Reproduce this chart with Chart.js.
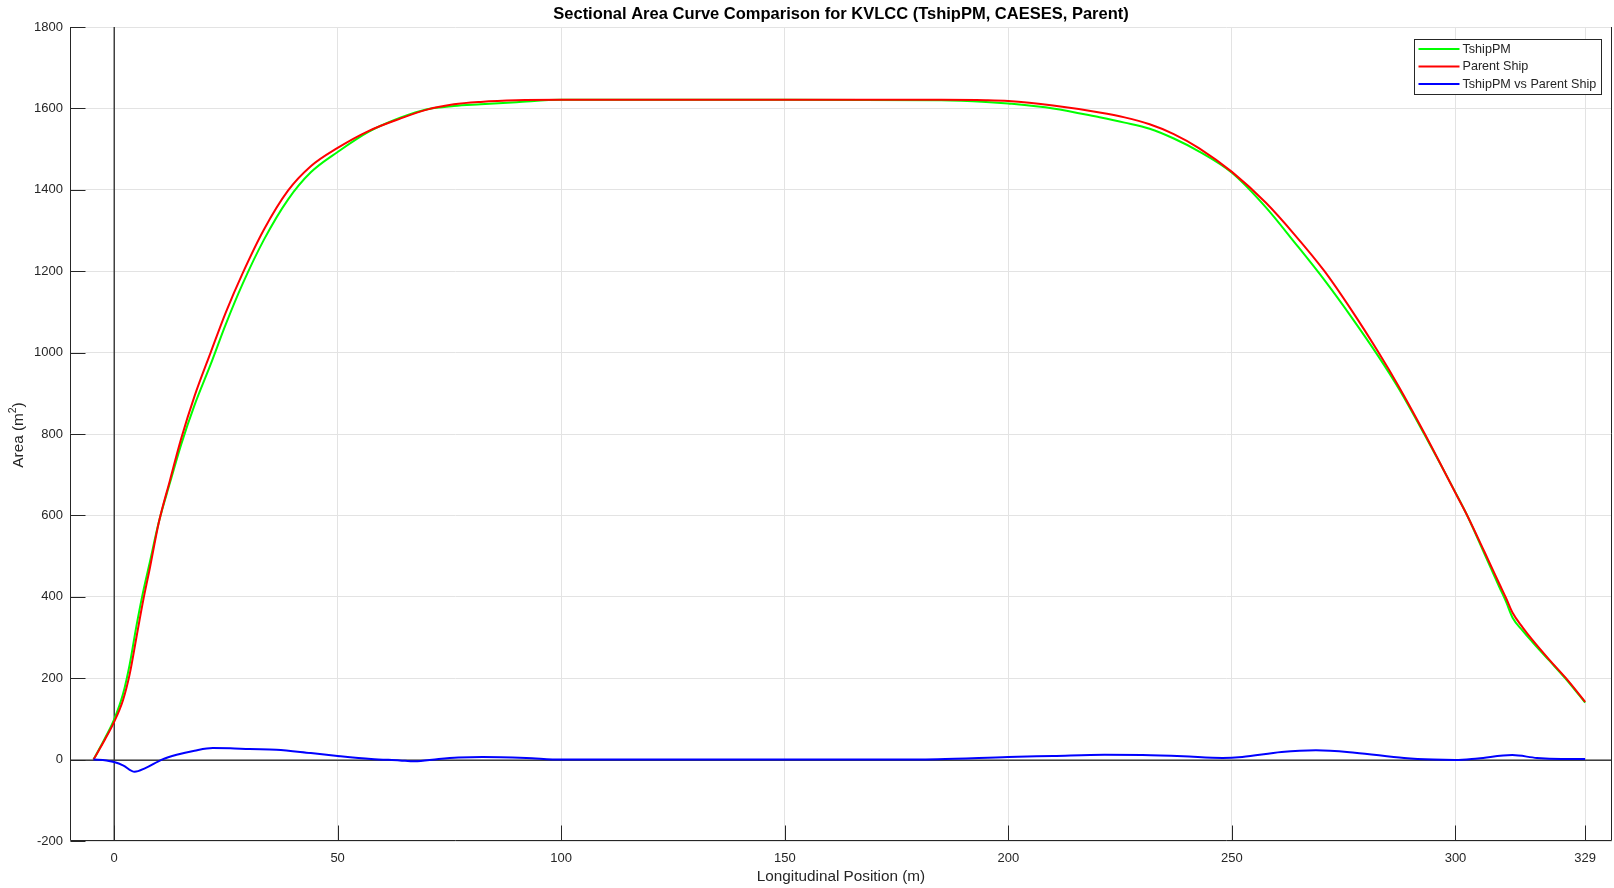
<!DOCTYPE html>
<html>
<head>
<meta charset="utf-8">
<title>Sectional Area Curve Comparison for KVLCC</title>
<script src="https://cdn.jsdelivr.net/npm/chart.js@4.4.1/dist/chart.umd.min.js"></script>
<style>
  html, body { margin: 0; padding: 0; background: #ffffff; }
  canvas { display: block; }
</style>
</head>
<body>
<canvas id="sac" width="1614" height="888"></canvas>
<script>
// Longitudinal stations (m) for the two sectional area curves
const stations = [-4.6, -2, 0, 2, 3.5, 5, 6.5, 8, 10, 12.5, 15, 18, 21.6, 25, 28.8, 33.5, 38.9, 44, 50, 57, 64, 70, 76, 82, 90, 100, 150, 185, 195, 200, 210, 220.4, 226, 231.6, 237, 242.7, 250, 257.6, 264, 270.7, 277, 282.8, 287.4, 293, 300, 302.7, 306.5, 309.8, 311.3, 312.8, 315, 317.2, 321, 324.7, 329];

// Sectional area (m^2), TshipPM hull
const tshipPM = [0, 53, 98, 161, 234, 328, 412, 485, 583, 680, 774, 871, 971, 1070, 1170, 1277, 1376, 1443, 1493, 1543, 1577, 1598, 1606, 1610, 1615, 1621, 1621, 1620, 1616, 1612, 1600, 1578, 1565, 1550, 1526, 1494, 1442, 1357, 1271, 1178, 1083, 990, 910, 800, 656, 598, 505, 424, 388, 348, 317, 289, 243, 198, 140];

// Sectional area (m^2), parent ship
const parentShip = [0, 50, 92, 146, 210, 300, 390, 470, 582, 686, 788, 893, 1000, 1099, 1196, 1302, 1398, 1458, 1503, 1545, 1575, 1597, 1610, 1616, 1620, 1621, 1621, 1621, 1620, 1618, 1607, 1590, 1578, 1561, 1537, 1502, 1444, 1368, 1290, 1200, 1100, 1000, 915, 803, 655, 598, 510, 432, 397, 360, 325, 294, 245, 200, 142];

// Area difference curve (m^2) and its stations
const diffStations = [-4.6, -1.7, 0, 2, 4.6, 7, 10.7, 14, 18, 22.1, 26, 30.3, 36.3, 44, 50, 57.5, 63.9, 67.2, 72.6, 77, 82.4, 92.2, 100, 130, 170, 184.2, 200, 210, 221.5, 230, 239.1, 247.9, 252.3, 261.1, 268.8, 277.5, 288.5, 295, 300, 305, 312.7, 318.2, 323.7, 329];
const diffArea = [0, -2, -6, -14, -30, -21, 0, 12, 22, 28.5, 28, 26, 24.5, 16, 9, 1.6, -2, -4.2, 1.6, 5, 6.5, 4, 0, 0, 0, 1, 6.5, 9, 12, 11, 8, 4, 6.5, 18.8, 22.9, 17, 4, 0, -1, 3, 11, 4, 1.5, 1.5];

// Axis ticks
const xTicks = [0, 50, 100, 150, 200, 250, 300, 329];
const yTicks = [-200, 0, 200, 400, 600, 800, 1000, 1200, 1400, 1600, 1800];

const titleText = 'Sectional Area Curve Comparison for KVLCC (TshipPM, CAESES, Parent)';
const xTitle = 'Longitudinal Position (m)';
const yTitleParts = ['Area (m', '2', ')'];

const FONT = '"Liberation Sans", Arial, Helvetica, sans-serif';
const AXIS_COLOR = '#262626';
const GRID_COLOR = '#e3e3e3';

function pairs(xs, ys) {
  return xs.map((x, i) => ({ x: x, y: ys[i] }));
}

// Axes frame, zero reference lines, inward ticks, titles and legend box
const decorations = {
  id: 'decorations',
  beforeDatasetsDraw(chart) {
    const { ctx, chartArea: a, scales: { x, y } } = chart;
    ctx.save();
    ctx.strokeStyle = '#404040';
    ctx.lineWidth = 1.5;
    const x0 = Math.round(x.getPixelForValue(0)) + 0.25;
    const y0 = Math.round(y.getPixelForValue(0)) + 0.25;
    ctx.beginPath();
    ctx.moveTo(x0, a.top); ctx.lineTo(x0, a.bottom);
    ctx.moveTo(a.left, y0); ctx.lineTo(a.right, y0);
    ctx.stroke();
    ctx.restore();
  },
  afterDraw(chart) {
    const { ctx, chartArea: a, scales: { x, y } } = chart;
    ctx.save();
    // axis lines
    ctx.strokeStyle = AXIS_COLOR;
    ctx.lineWidth = 1;
    const L = Math.round(a.left) + 0.5, R = Math.round(a.right) - 0.5, B = Math.round(a.bottom) - 0.5;
    ctx.beginPath();
    ctx.moveTo(L, a.top); ctx.lineTo(L, B);
    ctx.lineTo(R, B); ctx.lineTo(R, a.top);
    ctx.stroke();
    // inward tick marks
    const tl = 15;
    ctx.beginPath();
    yTicks.forEach(v => {
      const py = Math.round(y.getPixelForValue(v)) + 0.5;
      ctx.moveTo(L, py); ctx.lineTo(L + tl, py);
    });
    xTicks.forEach(v => {
      const px = Math.round(x.getPixelForValue(v)) + 0.5;
      ctx.moveTo(px, B); ctx.lineTo(px, B - tl);
    });
    ctx.stroke();

    // titles
    const cx = (a.left + a.right) / 2;
    ctx.fillStyle = '#000000';
    ctx.textAlign = 'center';
    ctx.textBaseline = 'middle';
    ctx.font = 'bold 16.5px ' + FONT;
    ctx.fillText(titleText, cx, 14.5);
    ctx.fillStyle = AXIS_COLOR;
    ctx.font = '15.3px ' + FONT;
    ctx.fillText(xTitle, cx, 877);

    // y title with superscript exponent
    ctx.save();
    ctx.translate(19, (a.top + a.bottom) / 2 + 1);
    ctx.rotate(-Math.PI / 2);
    const mainFont = '15.3px ' + FONT, supFont = '10.5px ' + FONT;
    ctx.font = mainFont;
    const w0 = ctx.measureText(yTitleParts[0]).width;
    const w2 = ctx.measureText(yTitleParts[2]).width;
    ctx.font = supFont;
    const w1 = ctx.measureText(yTitleParts[1]).width;
    let sx = -(w0 + w1 + w2) / 2;
    ctx.textAlign = 'left';
    ctx.font = mainFont;
    ctx.fillText(yTitleParts[0], sx, 0);
    sx += w0;
    ctx.font = supFont;
    ctx.fillText(yTitleParts[1], sx, -6);
    sx += w1;
    ctx.font = mainFont;
    ctx.fillText(yTitleParts[2], sx, 0);
    ctx.restore();

    // legend
    const items = chart.data.datasets.map(d => ({ label: d.label, color: d.borderColor }));
    ctx.font = '12.6px ' + FONT;
    const textW = Math.max(...items.map(it => ctx.measureText(it.label).width));
    const rowH = 17.5;
    const boxW = Math.round(48 + textW + 5);
    const boxH = Math.round(items.length * rowH + 2);
    const bx = Math.round(a.right - 11 - boxW) + 0.5;
    const by = Math.round(a.top + 12) + 0.5;
    ctx.fillStyle = '#ffffff';
    ctx.fillRect(bx, by, boxW, boxH);
    ctx.strokeStyle = '#262626';
    ctx.lineWidth = 1;
    ctx.strokeRect(bx, by, boxW, boxH);
    ctx.textAlign = 'left';
    ctx.textBaseline = 'middle';
    items.forEach((it, i) => {
      const ry = by + 9.5 + i * rowH;
      ctx.strokeStyle = it.color;
      ctx.lineWidth = 2;
      ctx.beginPath();
      ctx.moveTo(bx + 4, ry); ctx.lineTo(bx + 45, ry);
      ctx.stroke();
      ctx.fillStyle = AXIS_COLOR;
      ctx.fillText(it.label, bx + 48, ry + 0.5);
    });
    ctx.restore();
  }
};

new Chart(document.getElementById('sac'), {
  type: 'scatter',
  data: {
    datasets: [
      {
        label: 'TshipPM',
        data: pairs(stations, tshipPM),
        borderColor: '#00ff00',
        order: 3
      },
      {
        label: 'Parent Ship',
        data: pairs(stations, parentShip),
        borderColor: '#ff0000',
        order: 2
      },
      {
        label: 'TshipPM vs Parent Ship',
        data: pairs(diffStations, diffArea),
        borderColor: '#0000ff',
        order: 1
      }
    ]
  },
  options: {
    responsive: false,
    animation: false,
    devicePixelRatio: 1,
    showLine: true,
    datasets: {
      scatter: {
        showLine: true,
        pointRadius: 0,
        pointHoverRadius: 0,
        borderWidth: 2,
        cubicInterpolationMode: 'monotone',
        fill: false
      }
    },
    layout: { padding: { top: 27, right: 2, left: 0, bottom: 0 } },
    plugins: {
      legend: { display: false },
      title: { display: false },
      tooltip: { enabled: false }
    },
    scales: {
      x: {
        type: 'linear',
        min: -9.85,
        max: 335,
        afterBuildTicks(scale) { scale.ticks = xTicks.map(v => ({ value: v })); },
        afterFit(scale) { scale.height = 47; },
        grid: { color: GRID_COLOR, drawTicks: false, lineWidth: 1 },
        border: { display: false },
        ticks: {
          padding: 10,
          color: AXIS_COLOR,
          font: { family: FONT, size: 13 },
          maxRotation: 0,
          autoSkip: false,
          callback: v => String(v)
        }
      },
      y: {
        type: 'linear',
        min: -200,
        max: 1800,
        afterBuildTicks(scale) { scale.ticks = yTicks.map(v => ({ value: v })); },
        afterFit(scale) { scale.width = 70; },
        grid: { color: GRID_COLOR, drawTicks: false, lineWidth: 1 },
        border: { display: false },
        ticks: {
          padding: 7,
          color: AXIS_COLOR,
          font: { family: FONT, size: 13 },
          autoSkip: false,
          callback: v => String(v)
        }
      }
    }
  },
  plugins: [decorations]
});
</script>
</body>
</html>
